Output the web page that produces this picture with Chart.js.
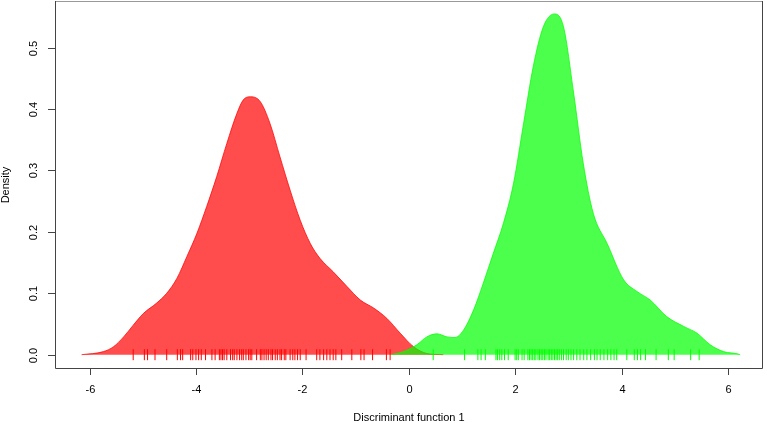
<!DOCTYPE html>
<html>
<head>
<meta charset="utf-8">
<script src="https://cdn.jsdelivr.net/npm/chart.js@4"></script>
<style>
  body { margin: 0; background: #fff; }
  #wrap { width: 767px; height: 423px; }
</style>
</head>
<body>
<div id="wrap"><canvas id="myChart" width="767" height="423"></canvas></div>
<script>
// density curves
var redX = [-6.15, -5.74, -5.55, -5.36, -5.18, -4.99, -4.74, -4.55, -4.36, -4.17, -3.98, -3.80, -3.61, -3.42, -3.23, -3.11, -2.97, -2.79, -2.61, -2.42, -2.23, -2.04, -1.85, -1.67, -1.42, -1.16, -0.91, -0.66, -0.41, -0.16, 0.09, 0.34, 0.65];
var redY = [0, 0.005, 0.013, 0.029, 0.048, 0.067, 0.084, 0.100, 0.124, 0.160, 0.198, 0.241, 0.290, 0.344, 0.393, 0.415, 0.420, 0.412, 0.377, 0.322, 0.268, 0.219, 0.181, 0.157, 0.135, 0.111, 0.089, 0.076, 0.059, 0.035, 0.013, 0.002, 0];

var greenX = [-0.33, -0.10, 0.15, 0.34, 0.53, 0.72, 0.87, 1.03, 1.22, 1.40, 1.59, 1.78, 1.97, 2.16, 2.34, 2.53, 2.74, 2.91, 3.10, 3.28, 3.47, 3.73, 4.04, 4.29, 4.54, 4.85, 5.17, 5.42, 5.67, 5.92, 6.20, 6.23];
var greenY = [0, 0.005, 0.016, 0.029, 0.034, 0.029, 0.028, 0.040, 0.073, 0.116, 0.165, 0.214, 0.279, 0.377, 0.469, 0.534, 0.555, 0.534, 0.426, 0.312, 0.230, 0.181, 0.122, 0.103, 0.089, 0.062, 0.046, 0.035, 0.016, 0.005, 0.001, 0];

// rug marks
var redRug = [-5.18, -4.97, -4.91, -4.77, -4.55, -4.35, -4.29, -4.25, -4.10, -4.06, -4.00, -3.95, -3.90, -3.82, -3.70, -3.64, -3.56, -3.53, -3.50, -3.47, -3.42, -3.35, -3.31, -3.28, -3.23, -3.18, -3.14, -3.11, -3.06, -3.01, -2.98, -2.95, -2.86, -2.79, -2.76, -2.72, -2.68, -2.64, -2.59, -2.56, -2.51, -2.47, -2.42, -2.39, -2.34, -2.31, -2.23, -2.18, -2.14, -2.09, -2.04, -1.93, -1.73, -1.67, -1.60, -1.54, -1.48, -1.42, -1.37, -1.26, -1.07, -0.90, -0.84, -0.68, -0.42, -0.35];
var greenRug = [0.46, 1.05, 1.30, 1.36, 1.44, 1.64, 1.67, 1.71, 1.75, 1.80, 1.87, 2.00, 2.03, 2.06, 2.13, 2.17, 2.24, 2.27, 2.30, 2.33, 2.36, 2.39, 2.43, 2.46, 2.49, 2.52, 2.55, 2.58, 2.62, 2.65, 2.68, 2.71, 2.74, 2.77, 2.80, 2.83, 2.87, 2.91, 2.96, 3.00, 3.05, 3.10, 3.16, 3.22, 3.29, 3.35, 3.42, 3.49, 3.54, 3.60, 3.67, 3.74, 3.80, 3.86, 3.91, 4.10, 4.24, 4.30, 4.36, 4.45, 4.65, 4.88, 4.99, 5.30, 5.46];

var xTicks = [-6, -4, -2, 0, 2, 4, 6];
var yTicks = [0.0, 0.1, 0.2, 0.3, 0.4, 0.5];
var xTitle = 'Discriminant function 1';
var yTitle = 'Density';

function pts(xs, ys) {
  var out = [];
  for (var i = 0; i < xs.length; i++) out.push({x: xs[i], y: ys[i]});
  return out;
}
function rug(xs) {
  var out = [];
  for (var i = 0; i < xs.length; i++) out.push({x: xs[i], y: 0});
  return out;
}

// R style axes, box and labels
var rAxes = {
  id: 'rAxes',
  afterDraw: function(chart) {
    var c = chart.ctx, a = chart.chartArea;
    var xs = chart.scales.x, ys = chart.scales.y;
    c.save();
    c.lineWidth = 1;
    // box
    c.strokeStyle = '#999';
    c.beginPath();
    c.moveTo(a.left + 0.5, a.top + 0.5);
    c.lineTo(a.right - 0.5, a.top + 0.5);
    c.stroke();
    c.strokeStyle = '#444';
    c.beginPath();
    c.moveTo(a.right - 0.5, a.top);
    c.lineTo(a.right - 0.5, a.bottom - 0.5);
    c.lineTo(a.left + 0.5, a.bottom - 0.5);
    c.lineTo(a.left + 0.5, a.top);
    c.stroke();

    c.fillStyle = '#000';
    c.font = '11px "Liberation Sans", Arial, sans-serif';
    // x ticks
    c.textAlign = 'center';
    c.textBaseline = 'middle';
    xTicks.forEach(function(t) {
      var px = Math.round(xs.getPixelForValue(t)) + 0.5;
      c.beginPath();
      c.moveTo(px, a.bottom);
      c.lineTo(px, a.bottom + 6);
      c.stroke();
      c.fillText(String(t), px, a.bottom + 21);
    });
    // y ticks, rotated labels
    yTicks.forEach(function(t) {
      var py = Math.round(ys.getPixelForValue(t)) + 0.5;
      c.beginPath();
      c.moveTo(a.left, py);
      c.lineTo(a.left - 7, py);
      c.stroke();
      c.save();
      c.translate(a.left - 21, py);
      c.rotate(-Math.PI / 2);
      c.fillText(t.toFixed(1), 0, 0);
      c.restore();
    });
    // titles
    c.fillText(xTitle, (a.left + a.right) / 2, a.bottom + 49);
    c.save();
    c.translate(6, (a.top + a.bottom) / 2);
    c.rotate(-Math.PI / 2);
    c.fillText(yTitle, 0, 0);
    c.restore();
    c.restore();
  }
};

var ctx = document.getElementById('myChart').getContext('2d');
var myChart = new Chart(ctx, {
  type: 'line',
  data: {
    datasets: [
      {
        label: 'red',
        data: pts(redX, redY),
        borderColor: 'rgba(255,0,0,0.75)',
        backgroundColor: 'rgba(255,0,0,0.7)',
        borderWidth: 1,
        fill: 'origin',
        pointRadius: 0,
        cubicInterpolationMode: 'monotone',
        order: 4
      },
      {
        label: 'green',
        data: pts(greenX, greenY),
        borderColor: 'rgba(0,255,0,0.75)',
        backgroundColor: 'rgba(0,255,0,0.7)',
        borderWidth: 1,
        fill: 'origin',
        pointRadius: 0,
        cubicInterpolationMode: 'monotone',
        order: 3
      },
      {
        label: 'red rug',
        data: rug(redRug),
        showLine: false,
        pointStyle: 'line',
        rotation: 90,
        pointRadius: 5.5,
        borderWidth: 1,
        borderColor: '#ff0000',
        order: 2
      },
      {
        label: 'green rug',
        data: rug(greenRug),
        showLine: false,
        pointStyle: 'line',
        rotation: 90,
        pointRadius: 5.5,
        borderWidth: 1,
        borderColor: '#00ff00',
        order: 1
      }
    ]
  },
  options: {
    responsive: false,
    animation: false,
    layout: { autoPadding: false, padding: { left: 55, right: 4, top: 1, bottom: 54 } },
    plugins: { legend: { display: false }, tooltip: { enabled: false } },
    elements: { point: { hoverRadius: 5.5 } },
    scales: {
      x: { type: 'linear', min: -6.65, max: 6.66, display: false },
      y: { type: 'linear', min: -0.0233, max: 0.576, display: false }
    }
  },
  plugins: [rAxes]
});
</script>
</body>
</html>
